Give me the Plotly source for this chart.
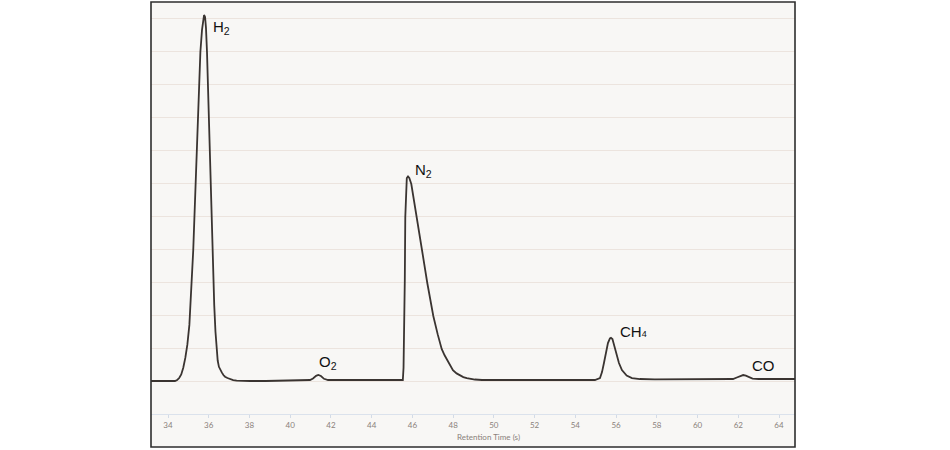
import plotly.graph_objects as go

# Chromatogram trace (retention time in s, detector signal in arbitrary grid units)
time_s = [33.17, 33.80, 34.10, 34.34, 34.45, 34.55, 34.65, 34.75, 34.85, 34.95, 35.05,
          35.15, 35.24, 35.32, 35.40, 35.47, 35.53, 35.59, 35.67, 35.72, 35.77,
          35.82, 35.865, 35.915, 35.96, 36.00, 36.06, 36.12, 36.175, 36.27, 36.33,
          36.39, 36.44, 36.50, 36.57, 36.64, 36.72, 36.80, 36.92, 37.04, 37.20,
          37.37, 37.70, 38.03, 38.80, 39.60, 40.48,
          40.97, 41.12, 41.27, 41.38, 41.51, 41.66, 41.86, 42.60, 43.40, 44.20,
          45.00, 45.53, 45.565, 45.60, 45.627, 45.651, 45.686, 45.725, 45.784,
          45.848, 45.946, 46.191, 46.471, 46.731, 47.026, 47.24, 47.438, 47.58,
          47.70, 47.85, 47.99, 48.17, 48.34, 48.50, 48.67, 48.87, 49.07, 49.42,
          50.20, 51.00, 51.80, 52.60, 53.40, 54.20, 54.96,
          55.21, 55.31, 55.405, 55.503, 55.601, 55.699, 55.749, 55.822,
          55.920, 56.028, 56.141, 56.288, 56.519, 56.780, 57.172, 57.90,
          58.70, 59.50, 60.30, 61.10, 61.74, 61.93, 62.10, 62.24, 62.37,
          62.49, 62.70, 63.00, 63.60, 64.20, 64.78]
signal = [1.00, 1.00, 1.00, 1.00, 1.03, 1.09, 1.20, 1.40, 1.70, 2.10, 2.70,
          3.75, 4.97, 6.35, 7.85, 8.97, 9.95, 10.97, 11.64, 11.94, 12.09,
          12.03, 11.70, 10.97, 9.90, 8.97, 7.85, 6.40, 4.97, 3.30, 2.50,
          1.90, 1.62, 1.43, 1.33, 1.26, 1.18, 1.13, 1.09, 1.06, 1.03,
          1.01, 1.00, 1.00, 1.00, 1.01, 1.02,
          1.03, 1.076, 1.158, 1.182, 1.152, 1.067, 1.03, 1.03, 1.03, 1.03,
          1.03, 1.03, 1.40, 2.55, 4.06, 5.97, 6.97, 7.15, 7.20,
          7.15, 6.97, 5.97, 4.97, 3.97, 2.97, 2.42, 1.97, 1.78,
          1.64, 1.47, 1.33, 1.23, 1.167, 1.12, 1.09, 1.06, 1.045, 1.03,
          1.03, 1.03, 1.03, 1.03, 1.03, 1.03, 1.03,
          1.09, 1.27, 1.545, 1.88, 2.15, 2.29, 2.31, 2.27,
          2.06, 1.79, 1.545, 1.333, 1.167, 1.09, 1.06, 1.05,
          1.05, 1.05, 1.05, 1.06, 1.06, 1.106, 1.15, 1.18, 1.16,
          1.12, 1.07, 1.06, 1.06, 1.06, 1.06]

# Peak labels
peak_labels = ["H<sub>2</sub>", "O<sub>2</sub>", "N<sub>2</sub>",
               "CH<span style='font-size:9px'>4</span>", "CO"]
peak_label_x = [36.26, 41.46, 46.18, 56.22, 62.70]
peak_label_y = [11.70, 1.55, 7.38, 2.51, 1.46]

tick_values = list(range(34, 65, 2))
tick_text = [str(v) for v in tick_values]
x_title = "Retention Time (s)"

W, H = 950, 450
L, R, T, B = 151, 795, 2, 414   # plot area in pixels
frame_bottom = 447
px_per_unit = 33.0

fig = go.Figure()
fig.add_trace(go.Scatter(x=time_s, y=signal, mode="lines",
                         line=dict(color="#3a3431", width=1.8),
                         hoverinfo="skip", showlegend=False))

# background and frame
fig.add_shape(type="rect", xref="paper", yref="paper",
              x0=0, x1=1, y0=-(frame_bottom - B) / (B - T), y1=1,
              fillcolor="#f8f7f5", line=dict(width=0), layer="below")
fig.add_shape(type="rect", xref="paper", yref="paper",
              x0=0, x1=1, y0=-(frame_bottom - B) / (B - T), y1=1,
              fillcolor="rgba(0,0,0,0)", line=dict(color="#2e2e2e", width=1.6),
              layer="above")

for txt, xv, yv in zip(peak_labels, peak_label_x, peak_label_y):
    fig.add_annotation(x=xv, y=yv, text=txt, showarrow=False, xanchor="left",
                       yanchor="middle", xshift=-3,
                       font=dict(family="Liberation Sans, Arial", size=15, color="#111111"))

fig.add_annotation(xref="paper", yref="paper", x=(488 - L) / (R - L),
                   y=-(437 - B) / (B - T), text=x_title, showarrow=False,
                   xanchor="center", yanchor="middle",
                   font=dict(family="Lato, Open Sans", size=8, color="#8a817b"))

x0_px, x1_px = 168.0, 779.0
spp = (x1_px - x0_px) / 30.0
fig.update_xaxes(range=[34 - (x0_px - L) / spp, 34 + (R - x0_px) / spp],
                 tickvals=tick_values, ticktext=tick_text,
                 ticks="outside", ticklen=3, tickwidth=1, tickcolor="#d3dbe6",
                 showline=True, linecolor="#dbe2ec", linewidth=1.2,
                 showgrid=False, zeroline=False,
                 tickfont=dict(family="Lato, Open Sans", size=8, color="#8a817b"))
fig.update_yaxes(range=[0, (B - T) / px_per_unit], tick0=0, dtick=1,
                 showgrid=True, gridcolor="#ece4de", gridwidth=1.2,
                 showticklabels=False, zeroline=False, ticks="")

fig.update_layout(width=W, height=H,
                  margin=dict(l=L, r=W - R, t=T, b=H - B, pad=0),
                  paper_bgcolor="white", plot_bgcolor="rgba(0,0,0,0)",
                  showlegend=False)

fig.write_html("out.html", config={"displayModeBar": False},
               post_script="document.body.style.margin='0px';document.body.style.padding='0px';")
